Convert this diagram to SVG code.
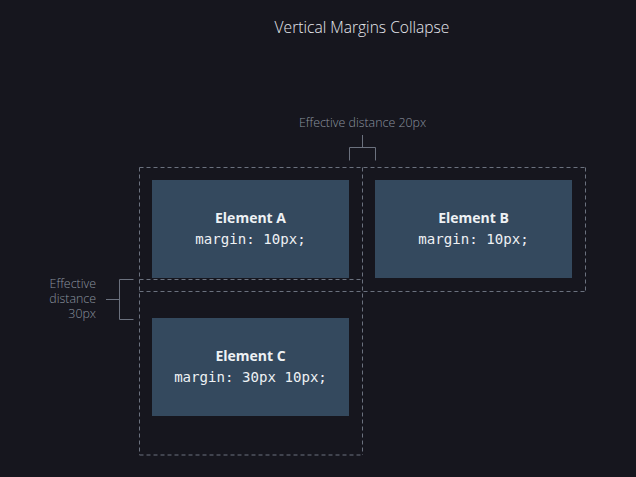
<svg xmlns="http://www.w3.org/2000/svg" width="636" height="477" viewBox="0 0 636 477">
<style>
.bg{fill:#16161e}
.box{fill:#34495e}
.margin{fill:none;stroke:#6b717e;stroke-width:1;stroke-dasharray:4 3}
.br{fill:none;stroke:#6b717e;stroke-width:1}
.title{font-family:"Open Sans","Noto Sans",sans-serif;font-weight:300;font-size:15.6px;fill:#e6e8ee}
.note{font-family:"Open Sans","Noto Sans",sans-serif;font-weight:300;font-size:12.4px;fill:#8b939e}
.name{font-family:"Open Sans","Noto Sans",sans-serif;font-weight:700;font-size:14px;fill:#eef1f4;text-anchor:middle}
.code{font-family:"DejaVu Sans Mono","Liberation Mono",monospace;font-size:14.1px;fill:#eef1f4;text-anchor:middle}
</style>
<rect class="bg" x="0" y="0" width="636" height="477"/>
<text class="title" x="362" y="33" text-anchor="middle">Vertical Margins Collapse</text>
<g id="connectors">
<path class="margin" d="M139.5 167.5H585.5M139.5 291.5H585.5M139.5 279.5H362.5M139.5 455H362.5M139.5 167.5V455M362.5 167.5V455M585.5 167.5V291.5"/>
<path class="br" d="M362.5 135V147.5M349.5 160.5V147.5H375.5V160.5"/>
<path class="br" d="M106 299.5H119.5M133.5 279.5H119.5V319.5H133.5"/>
<text class="note" x="362.5" y="127" text-anchor="middle">Effective distance 20px</text>
<text class="note" x="96" y="288" text-anchor="end">Effective</text>
<text class="note" x="96" y="303" text-anchor="end">distance</text>
<text class="note" x="96" y="318" text-anchor="end">30px</text>
</g>
<g id="elementA">
<rect class="box" x="152" y="180" width="197" height="98"/>
<text class="name" x="250.5" y="222.5">Element A</text>
<text class="code" x="250.5" y="244">margin: 10px;</text>
</g>
<g id="elementB">
<rect class="box" x="375" y="180" width="197" height="98"/>
<text class="name" x="473.5" y="222.5">Element B</text>
<text class="code" x="473.5" y="244">margin: 10px;</text>
</g>
<g id="elementC">
<rect class="box" x="152" y="318" width="197" height="98"/>
<text class="name" x="250.5" y="360.5">Element C</text>
<text class="code" x="250.5" y="382">margin: 30px 10px;</text>
</g>
</svg>
